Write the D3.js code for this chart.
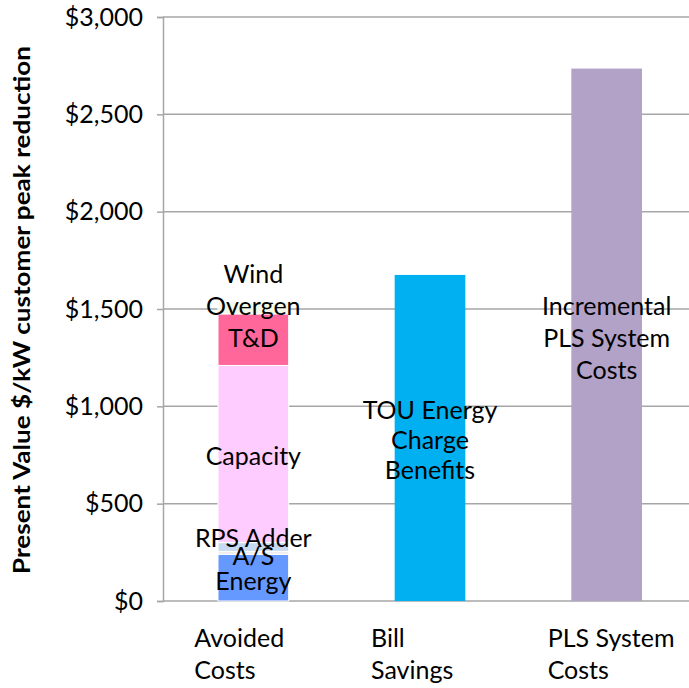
<!DOCTYPE html>
<html>
<head>
<meta charset="utf-8">
<script src="https://cdn.jsdelivr.net/npm/d3@7"></script>
<style>
  html, body { margin: 0; padding: 0; background: #fff; }
  svg text { font-family: Lato, "Open Sans", sans-serif; fill: #000; }
</style>
</head>
<body>
<svg id="chart" width="689" height="688"></svg>
<script>
// Categories on the x axis (each label split into lines)
const categories = ["Avoided Costs", "Bill Savings", "PLS System Costs"];
const categoryLines = [["Avoided", "Costs"], ["Bill", "Savings"], ["PLS System", "Costs"]];

// Avoided-cost components, stacked bottom to top ($/kW)
const avoidedComponents = ["Energy", "A/S", "RPS Adder", "Capacity", "T&D", "Wind Overgen"];
const avoidedValues = [240, 15, 45, 910, 265, 60];
const avoidedColors = ["#6699ff", "#eeeeee", "#c6d9f1", "#ffccff", "#ff6699", "#f4f8e6"];

// Single-value bars
const billSavings = 1675;
const plsSystemCosts = 2735;
const singleColors = ["#00b0f0", "#b2a2c7"];

// In-bar labels
const billLabel = ["TOU Energy", "Charge", "Benefits"];
const plsLabel = ["Incremental", "PLS System", "Costs"];

// Axis ticks
const yTicks = [0, 500, 1000, 1500, 2000, 2500, 3000];

const svg = d3.select("#chart");
const fontSize = 25;

const y = d3.scaleLinear().domain([0, 3000]).range([601, 17]);
const x = d3.scaleBand().domain(categories).range([165, 695])
  .paddingInner(0.6).paddingOuter(0.3);

const axisX = 163;
const grid = "#a6a6a6";

// Horizontal gridlines
svg.append("g").selectAll("line").data(yTicks).join("line")
  .attr("x1", axisX).attr("x2", 689)
  .attr("y1", d => y(d)).attr("y2", d => y(d))
  .attr("stroke", grid).attr("stroke-width", 1.5);

// Y axis
const yAxis = d3.axisLeft(y).tickValues(yTicks).tickSize(6).tickPadding(14)
  .tickFormat(d => "$" + d3.format(",")(d));
const gy = svg.append("g").attr("transform", `translate(${axisX},0)`).call(yAxis);
gy.select(".domain").attr("stroke", grid).attr("stroke-width", 1.5);
gy.selectAll(".tick line").attr("stroke", grid).attr("stroke-width", 1.5);
gy.selectAll(".tick text").attr("font-size", fontSize)
  .style("font-family", "Lato, sans-serif").attr("fill", "#000");

// Stacked Avoided Costs bar
const stackRow = {};
avoidedComponents.forEach((k, i) => stackRow[k] = avoidedValues[i]);
const series = d3.stack().keys(avoidedComponents)([stackRow]);
const bw = x.bandwidth();
svg.append("g").selectAll("rect").data(series).join("rect")
  .attr("x", x(categories[0]))
  .attr("width", bw)
  .attr("y", d => y(d[0][1]))
  .attr("height", d => y(d[0][0]) - y(d[0][1]))
  .attr("fill", (d, i) => avoidedColors[i])
  .attr("stroke", "#fff").attr("stroke-width", 1);

// Bill Savings and PLS System Costs bars
const singles = [
  { cat: categories[1], v: billSavings, c: singleColors[0] },
  { cat: categories[2], v: plsSystemCosts, c: singleColors[1] }
];
svg.append("g").selectAll("rect").data(singles).join("rect")
  .attr("x", d => x(d.cat)).attr("width", bw)
  .attr("y", d => y(d.v)).attr("height", d => y(0) - y(d.v))
  .attr("fill", d => d.c);

// Label helper: multi-line centered text
function label(cx, baselineY, lines, lh) {
  const t = svg.append("text").attr("text-anchor", "middle").attr("font-size", fontSize);
  lines.forEach((s, i) => t.append("tspan").attr("x", cx).attr("y", baselineY + i * lh).text(s));
}
const lh = 32;
const c0 = x(categories[0]) + bw / 2;
const c1 = x(categories[1]) + bw / 2;
const c2 = x(categories[2]) + bw / 2;

// Component labels for the stacked bar
label(c0, 283, ["Wind", "Overgen", "T&D"], lh);
label(c0, 465, ["Capacity"], lh);
label(c0, 547, ["RPS Adder"], lh);
label(c0, 565, ["A/S"], lh);
label(c0, 590, ["Energy"], lh);

label(c1, 419, billLabel, 30);
label(c2, 315, plsLabel, lh);

// Category labels under the axis (left-aligned lines)
categoryLines.forEach((lines, i) => {
  const t = svg.append("text").attr("font-size", fontSize);
  const left = x(categories[i]) + bw / 2 - 59;
  lines.forEach((s, j) => t.append("tspan").attr("x", left).attr("y", 647 + j * 32).text(s));
});

// Y axis title
svg.append("text")
  .attr("transform", "translate(30,310) rotate(-90)")
  .attr("text-anchor", "middle")
  .attr("font-size", 23).attr("font-weight", "bold")
  .attr("textLength", 528).attr("lengthAdjust", "spacingAndGlyphs")
  .text("Present Value $/kW customer peak reduction");
</script>
</body>
</html>
